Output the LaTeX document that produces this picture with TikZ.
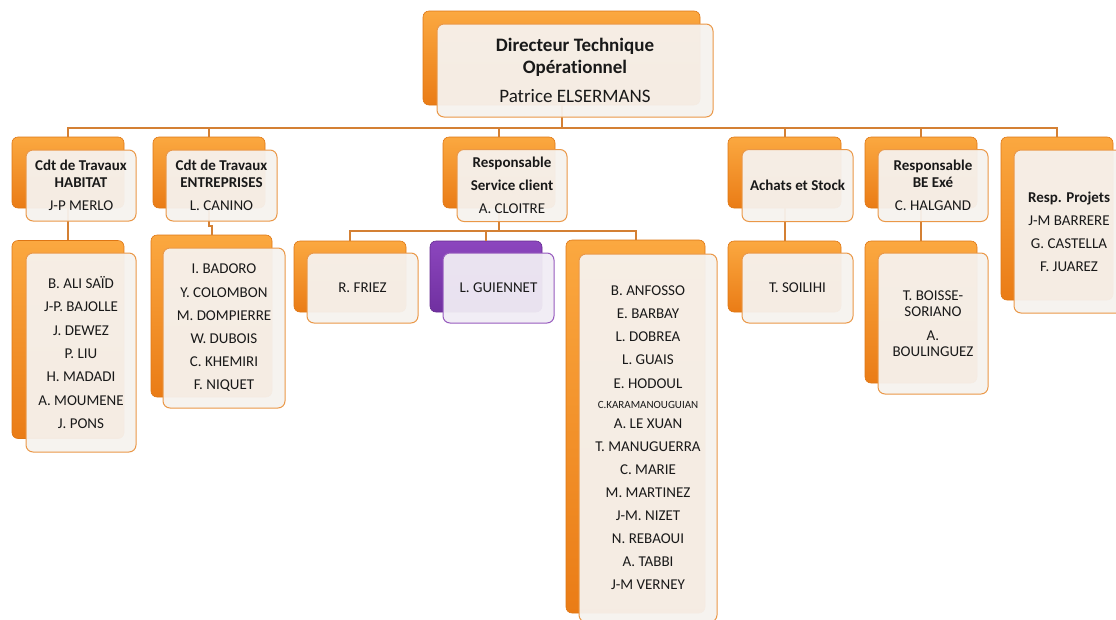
\documentclass[tikz,border=0pt]{standalone}
\usepackage{fontspec}
\setmainfont[Ligatures={NoCommon,NoDiscretionary,NoRare}]{Carlito}
\usetikzlibrary{calc}
\definecolor{orgTop}{RGB}{251,168,64}
\definecolor{orgBot}{RGB}{234,124,22}
\definecolor{orgLine}{RGB}{222,118,20}
\definecolor{orgEdge}{RGB}{234,152,72}
\definecolor{conn}{RGB}{212,128,52}
\definecolor{frontFill}{RGB}{246,242,238}
\definecolor{purTop}{RGB}{140,70,190}
\definecolor{purBot}{RGB}{112,48,160}
\definecolor{purEdge}{RGB}{150,90,190}
\definecolor{purFill}{RGB}{240,236,244}
\definecolor{txt}{RGB}{25,25,25}
\tikzset{
  backbox/.style={rounded corners=6pt, draw=orgLine, line width=0.6pt,
    top color=orgTop, bottom color=orgBot, inner sep=0pt},
  frontbox/.style={rounded corners=7pt, draw=orgEdge, line width=1pt,
    fill=frontFill, fill opacity=0.95, text opacity=1, inner sep=0pt,
    align=center, text=txt, font=\fontsize{15}{17}\selectfont},
  pbackbox/.style={rounded corners=6pt, draw=purBot!90!black, line width=0.6pt,
    top color=purTop, bottom color=purBot, inner sep=0pt},
  pfrontbox/.style={rounded corners=7pt, draw=purEdge, line width=1pt,
    fill=purFill, fill opacity=0.95, text opacity=1, inner sep=0pt,
    align=center, text=txt, font=\fontsize{15}{17}\selectfont},
  connline/.style={draw=conn, line width=2pt},
  sz/.style n args={2}{minimum width=#1pt, minimum height=#2pt}
}
\begin{document}
\begin{tikzpicture}[x=1pt,y=-1pt]
\useasboundingbox (0,0) rectangle (1116,619);
\clip (0,0) rectangle (1116,619);
% coordinates of buses
\coordinate (bus) at (0,128);
\coordinate (scbus) at (0,231);
% ---------- back boxes
\node[backbox, sz={277}{94}] (dirB) at (561.5,58) {};
\node[backbox, sz={112}{71}] (habB) at (68,172.5) {};
\node[backbox, sz={112}{71}] (entB) at (209,172.5) {};
\node[backbox, sz={112}{71}] (scB) at (499,172.5) {};
\node[backbox, sz={113}{71}] (achB) at (784.5,172.5) {};
\node[backbox, sz={112}{71}] (beB) at (921,172.5) {};
\node[backbox, sz={112}{163}] (projB) at (1057,218.5) {};
\node[backbox, sz={112}{198}] (habLB) at (68,339.5) {};
\node[backbox, sz={121}{162}] (entLB) at (211.5,316) {};
\node[backbox, sz={112}{71}] (frzB) at (350,276.5) {};
\node[pbackbox, sz={112}{71}] (guiB) at (486,276.5) {};
\node[backbox, sz={139}{373}] (bigB) at (635.5,426.5) {};
\node[backbox, sz={113}{71}] (soiB) at (784.5,276.5) {};
\node[backbox, sz={112}{142}] (beLB) at (921,312) {};
% ---------- connectors
\draw[connline] (dirB.south) -- (dirB.south |- bus);
\draw[connline] (habB.north) |- (dirB.south |- bus) -| (projB.north);
\draw[connline] (entB.north) -- (entB.north |- bus);
\draw[connline] (scB.north) -- (scB.north |- bus);
\draw[connline] (achB.north) -- (achB.north |- bus);
\draw[connline] (beB.north) -- (beB.north |- bus);
\draw[connline] (habB.south) -- (habLB.north);
\draw[connline] (entB.south) -- ++(0,18) -| (entLB.north);
\draw[connline] (scB.south) -- (scB.south |- scbus);
\draw[connline] (frzB.north) |- (scB.south |- scbus) -| (bigB.north);
\draw[connline] (guiB.north) -- (guiB.north |- scbus);
\draw[connline] (achB.south) -- (soiB.north);
\draw[connline] (beB.south) -- (beLB.north);
% ---------- front boxes
\node[frontbox, sz={276}{93}, font=\fontsize{19}{22}\selectfont] (dirF) at (575,70.5)
  {\bfseries Directeur Technique\\ \bfseries Opérationnel\\[7pt] Patrice ELSERMANS};
\node[frontbox, sz={110}{71}] (habF) at (81,185.5)
  {\bfseries Cdt de Travaux\\ \bfseries HABITAT\\[6pt] J-P MERLO};
\node[frontbox, sz={111}{71}] (entF) at (221.5,185.5)
  {\bfseries Cdt de Travaux\\ \bfseries ENTREPRISES\\[6pt] L. CANINO};
\node[frontbox, sz={110}{72}] (scF) at (512,185.5)
  {\bfseries Responsable\\[6pt] \bfseries Service client\\[6pt] A. CLOITRE};
\node[frontbox, sz={111}{72}] (achF) at (797.5,185.5)
  {\bfseries Achats et Stock};
\node[frontbox, sz={110}{72}] (beF) at (933,185.5)
  {\bfseries Responsable\\ \bfseries BE Exé\\[6pt] C. HALGAND};
\node[frontbox, sz={110}{163}, font=\fontsize{15}{23}\selectfont] (projF) at (1069,231.5)
  {\bfseries Resp. Projets\\ J-M BARRERE\\ G. CASTELLA\\ F. JUAREZ};
\node[frontbox, sz={110}{199}, font=\fontsize{15}{23.3}\selectfont] (habLF) at (81,352.5)
  {B. ALI SAÏD\\ J-P. BAJOLLE\\ J. DEWEZ\\ P. LIU\\ H. MADADI\\ A. MOUMENE\\ J. PONS};
\node[frontbox, sz={122}{160}, font=\fontsize{15}{23.2}\selectfont] (entLF) at (224,328)
  {I. BADORO\\ Y. COLOMBON\\ M. DOMPIERRE\\ W. DUBOIS\\ C. KHEMIRI\\ F. NIQUET};
\node[frontbox, sz={111}{70}] (frzF) at (362.5,288) {R. FRIEZ};
\node[pfrontbox, sz={111}{70}] (guiF) at (498.5,288) {L. GUIENNET};
\node[frontbox, sz={138}{368}, font=\fontsize{15}{23.1}\selectfont] (bigF) at (648,438)
  {B. ANFOSSO\\ E. BARBAY\\ L. DOBREA\\ L. GUAIS\\ E. HODOUL\\[-3pt]
   {\fontsize{11}{13}\selectfont C.KARAMANOUGUIAN}\\[-3pt]
   A. LE XUAN\\ T. MANUGUERRA\\ C. MARIE\\ M. MARTINEZ\\ J-M. NIZET\\ N. REBAOUI\\ A. TABBI\\ J-M VERNEY};
\node[frontbox, sz={111}{70}] (soiF) at (797.5,288) {T. SOILIHI};
\node[frontbox, sz={110}{141}, font=\fontsize{15}{16}\selectfont] (beLF) at (933,323.5)
  {T. BOISSE-\\ SORIANO\\[8pt] A.\\ BOULINGUEZ};
\end{tikzpicture}
\end{document}
